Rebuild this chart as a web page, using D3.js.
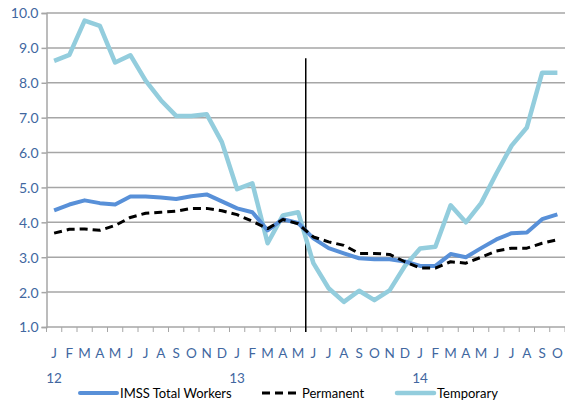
<!DOCTYPE html>
<html>
<head>
<meta charset="utf-8">
<script src="https://cdn.jsdelivr.net/npm/d3@7"></script>
<style>
  html, body { margin: 0; padding: 0; background: #fff; }
  text { font-family: Lato, "Open Sans", sans-serif; }
</style>
</head>
<body>
<svg id="chart"></svg>
<script>
const w = 565;
const h = 409;

const months = ['J','F','M','A','M','J','J','A','S','O','N','D',
                'J','F','M','A','M','J','J','A','S','O','N','D',
                'J','F','M','A','M','J','J','A','S','O'];
const yearLabels = [{ idx: 0, label: '12' }, { idx: 12, label: '13' }, { idx: 24, label: '14' }];
const yTicks = [1, 2, 3, 4, 5, 6, 7, 8, 9, 10];

const total = [4.34, 4.51, 4.63, 4.55, 4.51, 4.74, 4.74, 4.71, 4.67, 4.75, 4.8, 4.6,
               4.4, 4.29, 3.77, 4.09, 3.98, 3.54, 3.26, 3.11, 2.97, 2.94, 2.94, 2.88,
               2.75, 2.75, 3.09, 3.0, 3.26, 3.51, 3.69, 3.71, 4.09, 4.23];
const permanent = [3.69, 3.8, 3.81, 3.77, 3.91, 4.14, 4.26, 4.29, 4.32, 4.4, 4.4, 4.33,
                   4.22, 4.03, 3.82, 4.08, 3.96, 3.58, 3.44, 3.34, 3.11, 3.11, 3.08, 2.87,
                   2.69, 2.69, 2.87, 2.83, 3.0, 3.18, 3.26, 3.26, 3.4, 3.5];
const temporary = [8.63, 8.8, 9.78, 9.63, 8.58, 8.79, 8.06, 7.5, 7.05, 7.05, 7.1, 6.3,
                   4.95, 5.12, 3.4, 4.2, 4.29, 2.83, 2.11, 1.72, 2.04, 1.77, 2.05, 2.75,
                   3.25, 3.3, 4.49, 4.0, 4.55, 5.4, 6.2, 6.72, 8.29, 8.29];

// index of the category boundary where the vertical marker sits (between May and June 2013)
const markerIdx = 17;
const markerTop = 8.7;

const series = [
  { name: 'IMSS Total Workers', values: total, color: '#5890d8', width: 4, dash: null },
  { name: 'Permanent', values: permanent, color: '#000', width: 3, dash: '8,5' },
  { name: 'Temporary', values: temporary, color: '#93cddd', width: 4.5, dash: null }
];

const margin = { top: 13, right: 0, bottom: 82, left: 46.5 };
const labelColor = "#41679f";

const svg = d3.select("#chart")
  .attr("width", w)
  .attr("height", h);

const x = d3.scaleBand()
  .domain(d3.range(months.length))
  .range([margin.left, w - margin.right]);

const y = d3.scaleLinear()
  .domain([1, 10])
  .range([h - margin.bottom, margin.top]);

// gridlines
svg.append("g")
  .selectAll("line")
  .data(yTicks.filter(d => d > 1))
  .enter()
  .append("line")
  .attr("x1", margin.left)
  .attr("x2", w - margin.right)
  .attr("y1", d => y(d))
  .attr("y2", d => y(d))
  .attr("stroke", "#a6a6a6")
  .attr("stroke-width", 1.5);

// y axis
const yAxis = d3.axisLeft(y)
  .tickValues(yTicks)
  .tickSize(5)
  .tickFormat(d3.format(".1f"));

svg.append("g")
  .attr("transform", `translate(${margin.left},0)`)
  .call(yAxis)
  .call(g => g.select(".domain").attr("stroke", "#a6a6a6").attr("stroke-width", 1.5))
  .call(g => g.selectAll(".tick line").attr("stroke", "#a6a6a6").attr("stroke-width", 1.5))
  .call(g => g.selectAll("text")
    .attr("fill", labelColor)
    .attr("font-size", 14)
    .attr("x", -8)
    .attr("dy", "0.35em"));

// x axis with ticks at category boundaries
const bounds = d3.range(months.length + 1).map(i => i < months.length ? x(i) : x(i - 1) + x.bandwidth());
svg.append("line")
  .attr("x1", margin.left)
  .attr("x2", w - margin.right)
  .attr("y1", y(1))
  .attr("y2", y(1))
  .attr("stroke", "#a6a6a6")
  .attr("stroke-width", 1.5);

svg.append("g")
  .selectAll("line")
  .data(bounds)
  .enter()
  .append("line")
  .attr("x1", d => d)
  .attr("x2", d => d)
  .attr("y1", y(1))
  .attr("y2", y(1) + 5)
  .attr("stroke", "#a6a6a6")
  .attr("stroke-width", 1);

svg.append("g")
  .selectAll("text")
  .data(months)
  .enter()
  .append("text")
  .text(d => d)
  .attr("x", (d, i) => x(i) + x.bandwidth() / 2)
  .attr("y", y(1) + 31)
  .attr("text-anchor", "middle")
  .attr("font-size", 13.5)
  .attr("fill", labelColor);

svg.append("g")
  .selectAll("text")
  .data(yearLabels)
  .enter()
  .append("text")
  .text(d => d.label)
  .attr("x", d => x(d.idx) + x.bandwidth() / 2)
  .attr("y", y(1) + 56)
  .attr("text-anchor", "middle")
  .attr("font-size", 13.5)
  .attr("fill", labelColor);

// vertical marker line
svg.append("line")
  .attr("x1", x(markerIdx))
  .attr("x2", x(markerIdx))
  .attr("y1", y(markerTop))
  .attr("y2", y(1) + 5)
  .attr("stroke", "#000")
  .attr("stroke-width", 1.5);

// series lines
const line = d3.line()
  .x((d, i) => x(i) + x.bandwidth() / 2)
  .y(d => y(d));

const drawOrder = [series[2], series[0], series[1]];
svg.append("g")
  .selectAll("path")
  .data(drawOrder)
  .enter()
  .append("path")
  .attr("d", d => line(d.values))
  .attr("fill", "none")
  .attr("stroke", d => d.color)
  .attr("stroke-width", d => d.width)
  .attr("stroke-dasharray", d => d.dash)
  .attr("stroke-linejoin", "round");

// legend
const legendPos = [80, 262, 397];
const legend = svg.append("g")
  .selectAll("g")
  .data(series)
  .enter()
  .append("g")
  .attr("transform", (d, i) => `translate(${legendPos[i]},393)`);

legend.append("line")
  .attr("x1", 0)
  .attr("x2", 37)
  .attr("y1", 0)
  .attr("y2", 0)
  .attr("stroke", d => d.color)
  .attr("stroke-width", d => d.width)
  .attr("stroke-dasharray", d => d.dash)
  .attr("stroke-linecap", d => d.dash ? "butt" : "round");

legend.append("text")
  .text(d => d.name)
  .attr("x", 40)
  .attr("y", 0)
  .attr("dy", "0.35em")
  .attr("font-size", 13)
  .attr("fill", "#000");
</script>
</body>
</html>
